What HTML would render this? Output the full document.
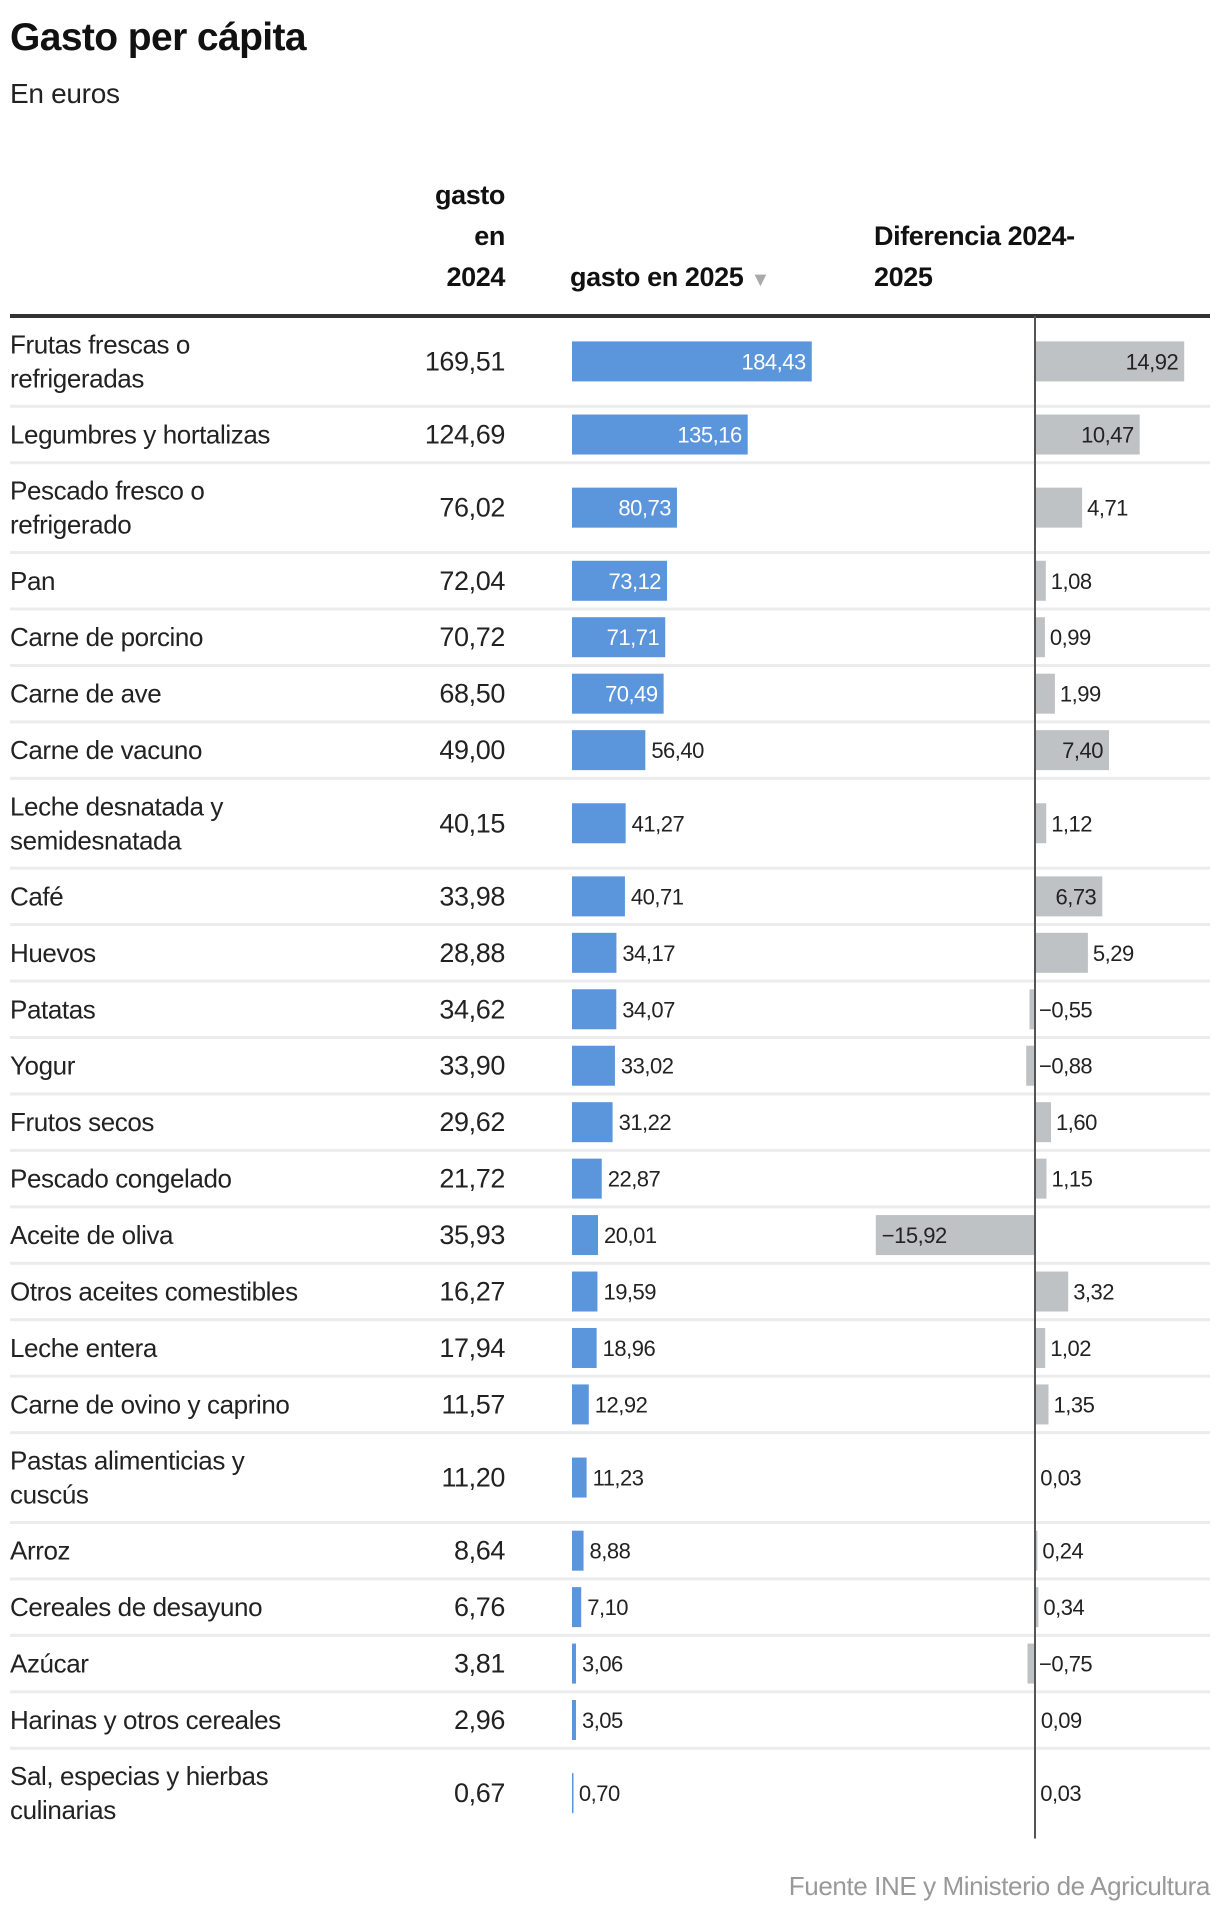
<!DOCTYPE html>
<html><head><meta charset="utf-8">
<style>
body{margin:0;background:#fff;width:1220px;height:1914px;overflow:hidden;font-family:"Liberation Sans",sans-serif;}
svg text{font-family:"Liberation Sans",sans-serif;}
</style></head>
<body>
<svg id="chart" width="1220" height="1914" viewBox="0 0 1220 1914" xmlns="http://www.w3.org/2000/svg">
<text x="10" y="50" font-size="39" font-weight="bold" fill="#111" letter-spacing="-0.6">Gasto per cápita</text>
<text x="10" y="103" font-size="28" fill="#222" letter-spacing="-0.3">En euros</text>
<g font-size="27" font-weight="bold" fill="#111" text-anchor="end" letter-spacing="-0.4">
<text x="505" y="204">gasto</text><text x="505" y="245">en</text><text x="505" y="286">2024</text>
</g>
<text x="570" y="286" font-size="27" font-weight="bold" fill="#111" letter-spacing="-0.4">gasto en 2025 <tspan fill="#aaa" font-size="20">▼</tspan></text>
<g font-size="27" font-weight="bold" fill="#111" letter-spacing="-0.4">
<text x="874" y="245">Diferencia 2024-</text><text x="874" y="286">2025</text>
</g>
<rect x="10" y="314" width="1200" height="4" fill="#333"/>
<g id="rows"></g>
<text x="1210" y="1895" font-size="26" fill="#999" text-anchor="end" letter-spacing="-0.4">Fuente INE y Ministerio de Agricultura</text>
</svg>
<script>
const categories=["Frutas frescas o|refrigeradas","Legumbres y hortalizas","Pescado fresco o|refrigerado","Pan","Carne de porcino","Carne de ave","Carne de vacuno","Leche desnatada y|semidesnatada","Café","Huevos","Patatas","Yogur","Frutos secos","Pescado congelado","Aceite de oliva","Otros aceites comestibles","Leche entera","Carne de ovino y caprino","Pastas alimenticias y|cuscús","Arroz","Cereales de desayuno","Azúcar","Harinas y otros cereales","Sal, especias y hierbas|culinarias"];
const values2024=[169.51,124.69,76.02,72.04,70.72,68.50,49.00,40.15,33.98,28.88,34.62,33.90,29.62,21.72,35.93,16.27,17.94,11.57,11.20,8.64,6.76,3.81,2.96,0.67];
const values2025=[184.43,135.16,80.73,73.12,71.71,70.49,56.40,41.27,40.71,34.17,34.07,33.02,31.22,22.87,20.01,19.59,18.96,12.92,11.23,8.88,7.10,3.06,3.05,0.70];
const diffs=[14.92,10.47,4.71,1.08,0.99,1.99,7.40,1.12,6.73,5.29,-0.55,-0.88,1.60,1.15,-15.92,3.32,1.02,1.35,0.03,0.24,0.34,-0.75,0.09,0.03];

const NS="http://www.w3.org/2000/svg";
const xBlue=v=>572+v*1.3;
const xDiff=v=>1035+v*10;
const fmt=v=>(v<0?"−":"")+Math.abs(v).toFixed(2).replace(".",",");
function mk(tag,attrs,parent){const e=document.createElementNS(NS,tag);for(const k in attrs)e.setAttribute(k,attrs[k]);parent.appendChild(e);return e;}
const g=document.getElementById("rows");
let y=318;
categories.forEach((cat,i)=>{
  const lines=cat.split("|");
  const h=lines.length>1?86.8:53.45;
  const cy=y+h/2;
  const row=mk("g",{},g);
  
  
  lines.forEach((ln,j)=>{
    const t=mk("text",{x:10,y:cy+9+(lines.length>1?(j?17:-17):0),"font-size":26,fill:"#222","letter-spacing":"-0.4"},row);
    t.textContent=ln;
    
    
  });
  const t24=mk("text",{x:505,y:cy+9,"font-size":27,fill:"#222","text-anchor":"end","letter-spacing":"-0.4"},row);
  t24.textContent=fmt(values2024[i]);
  
  
  const w=xBlue(values2025[i])-xBlue(0);
  const b=mk("rect",{x:xBlue(0),y:cy-20,width:Math.max(w,1.5),height:40,fill:"#5b95db"},row);
  
  
  const inside=w>80;
  const tb=mk("text",{x:inside?xBlue(values2025[i])-6:xBlue(values2025[i])+6,y:cy+8,"font-size":22,fill:inside?"#fff":"#222","text-anchor":inside?"end":"start","letter-spacing":"-0.5"},row);
  tb.textContent=fmt(values2025[i]);
  
  
  const d=diffs[i];
  const x0=Math.min(xDiff(0),xDiff(d)),dw=Math.abs(xDiff(d)-xDiff(0));
  const db=mk("rect",{x:x0,y:cy-20,width:Math.max(dw,0.5),height:40,fill:"#bfc2c5"},row);
  
  
  let tx,anchor;
  if(d>=0){ if(dw>60){tx=xDiff(d)-6;anchor="end";}else{tx=xDiff(d)+5;anchor="start";} }
  else{ if(dw>60){tx=xDiff(d)+6;anchor="start";}else{tx=xDiff(0)+4;anchor="start";} }
  const td=mk("text",{x:tx,y:cy+8,"font-size":22,fill:"#222","text-anchor":anchor,"letter-spacing":"-0.5"},row);
  td.textContent=fmt(d);
  
  
  y+=h;
  if(i<categories.length-1){
    const s=mk("rect",{x:10,y:y,width:1200,height:3,fill:"#ececec"},row);
    
    
    y+=3;
  }
});
const ax=mk("rect",{x:1034,y:316,width:2,height:y+2-316,fill:"#555"},g);


</script>
</body></html>
